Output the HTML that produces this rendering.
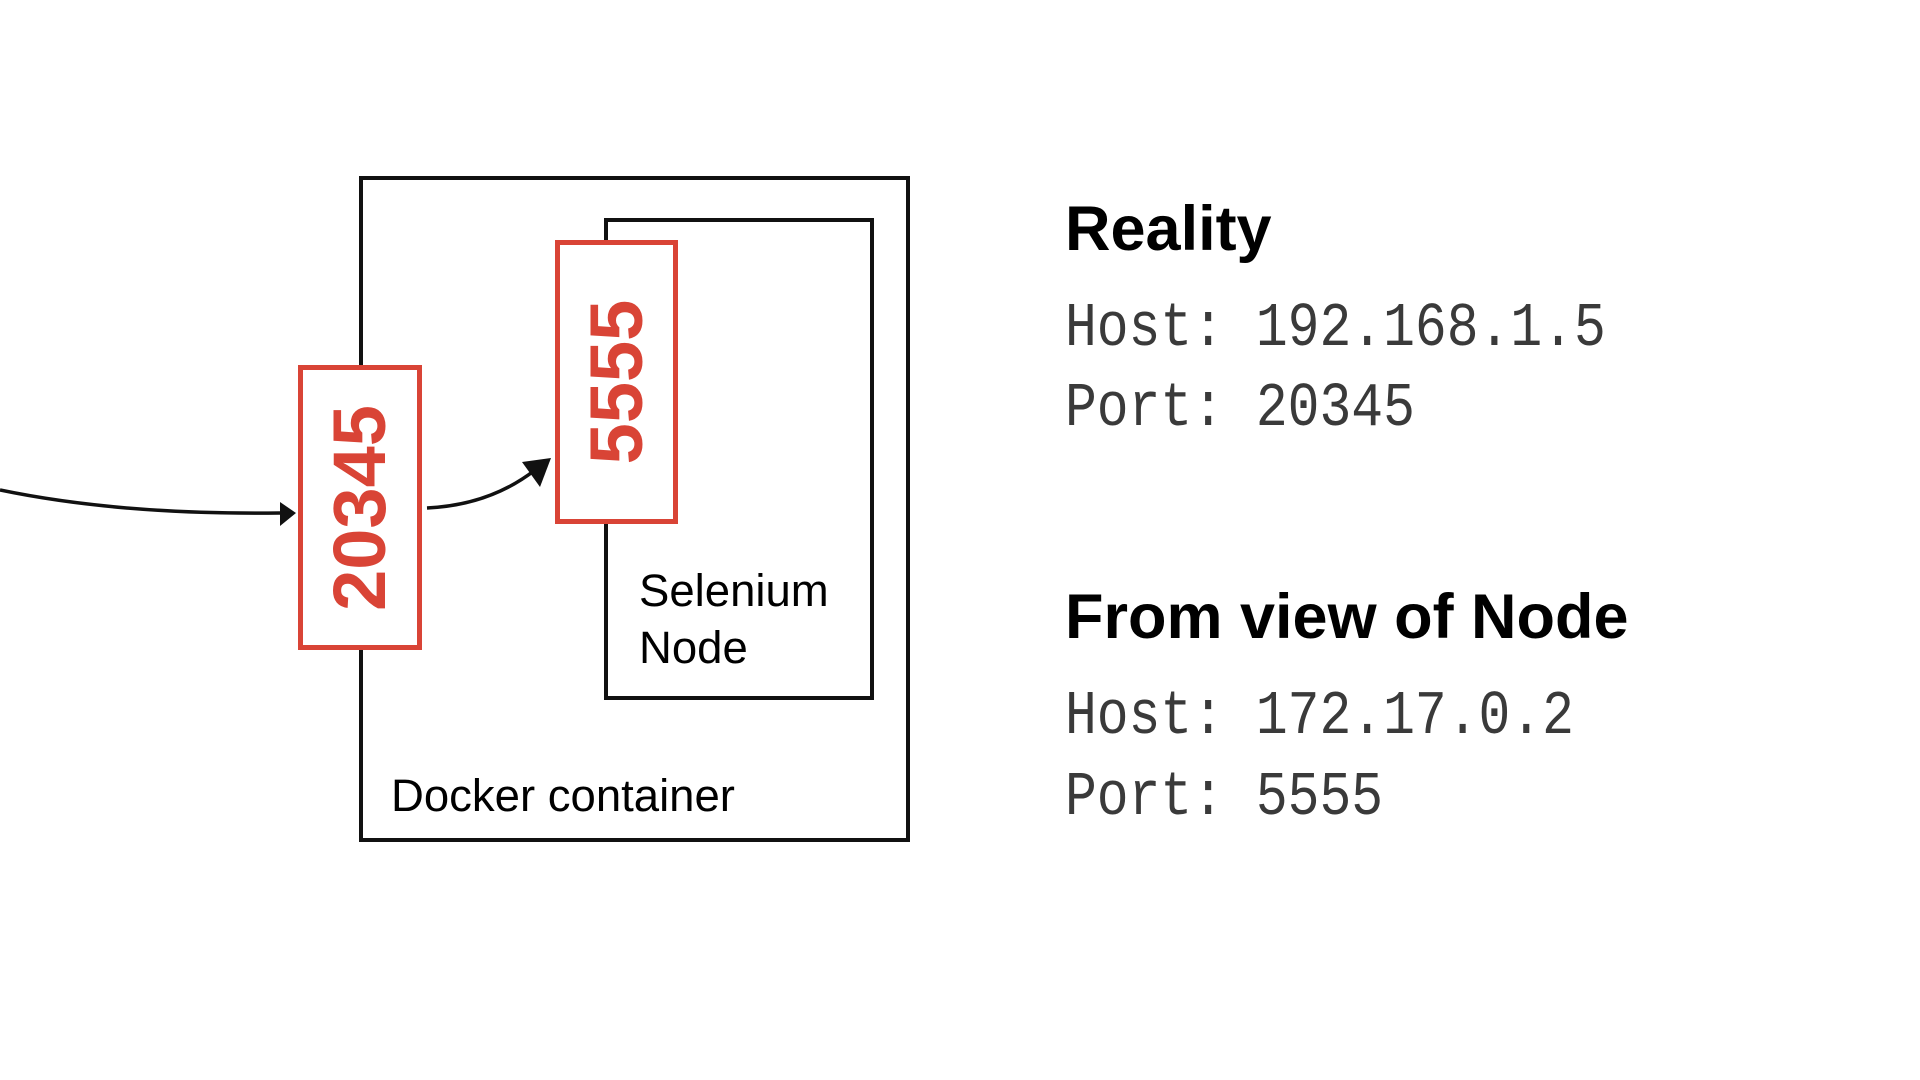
<!DOCTYPE html>
<html><head><style>
html,body{margin:0;padding:0;background:#fff;}
body{width:1920px;height:1080px;position:relative;overflow:hidden;font-family:"Liberation Sans",sans-serif;}
.abs{position:absolute;}
.mono{font-family:"Liberation Mono",monospace;font-size:62px;transform:scaleX(0.855);transform-origin:left center;white-space:nowrap;color:#3a3a3a;font-weight:normal;line-height:1;}
.h{font-weight:bold;font-size:63px;white-space:nowrap;color:#000;line-height:1;}
.red{position:absolute;border:5px solid #d94436;background:#fff;box-sizing:border-box;}
.rt{position:absolute;left:50%;top:50%;transform:translate(-50%,-50%) rotate(-90deg);color:#d94436;font-weight:bold;font-size:74px;white-space:nowrap;line-height:1;}
</style></head><body>
<svg class="abs" style="left:0;top:0" width="1920" height="1080">
<rect x="361" y="178" width="547" height="662" fill="none" stroke="#111" stroke-width="4"/>
<rect x="606" y="220" width="266" height="478" fill="none" stroke="#111" stroke-width="4"/>
<path d="M0,490 Q120,515 280,513" fill="none" stroke="#111" stroke-width="3.5"/>
<path d="M280,502 L296,513 L280,526 z" fill="#111"/>
<path d="M427,508 Q490,505 535,470" fill="none" stroke="#111" stroke-width="3.5"/>
<path d="M522,462 L551,458 L540,487 z" fill="#111"/>
</svg>
<div class="red" style="left:298px;top:365px;width:124px;height:285px;"><div class="rt">20345</div></div>
<div class="red" style="left:555px;top:240px;width:123px;height:284px;"><div class="rt">5555</div></div>
<div class="abs" style="left:639px;top:562px;font-size:45.5px;line-height:57px;color:#000;">Selenium<br>Node</div>
<div class="abs" style="left:391px;top:771px;font-size:45.5px;line-height:1.1;color:#000;">Docker container</div>
<div class="abs h" style="left:1065px;top:198px;">Reality</div>
<div class="abs mono" style="left:1065px;top:298px;">Host: 192.168.1.5</div>
<div class="abs mono" style="left:1065px;top:378px;">Port: 20345</div>
<div class="abs h" style="left:1065px;top:586px;">From view of Node</div>
<div class="abs mono" style="left:1065px;top:686px;">Host: 172.17.0.2</div>
<div class="abs mono" style="left:1065px;top:767px;">Port: 5555</div>
</body></html>
